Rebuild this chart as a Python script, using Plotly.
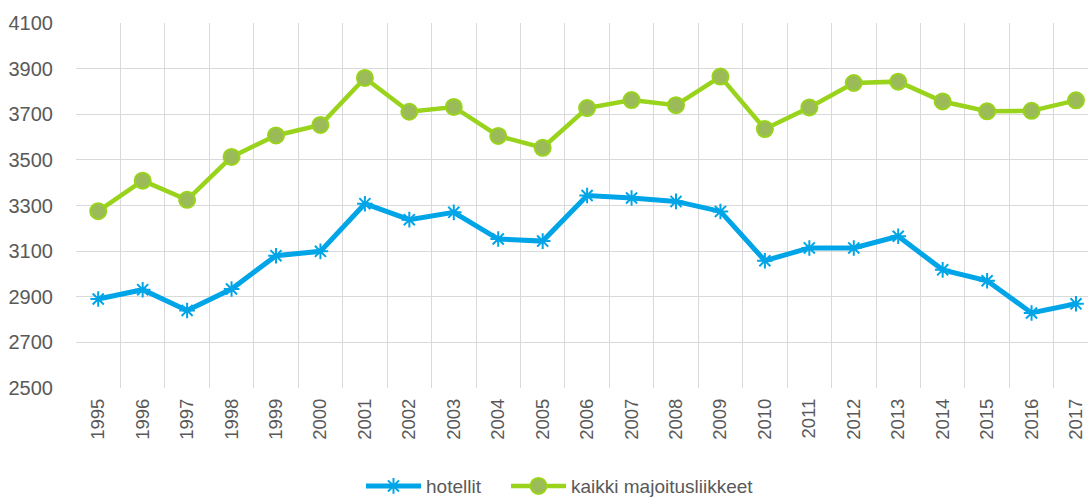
import plotly.graph_objects as go

years = [str(y) for y in range(1995, 2018)]
hotellit = [2890, 2931, 2840, 2934, 3080, 3099, 3308, 3238, 3270, 3153, 3144,
            3344, 3333, 3318, 3274, 3058, 3114, 3114, 3165, 3018, 2970, 2829, 2869]
kaikki = [3275, 3409, 3325, 3513, 3607, 3653, 3859, 3711, 3732, 3605, 3553,
          3727, 3762, 3740, 3865, 3635, 3730, 3837, 3843, 3756, 3713, 3715, 3761]
y_ticks = list(range(2500, 4101, 200))

blue = "#00A5E8"
green = "#99D31C"
green_fill = "#9BBB59"
txt = "#595959"
grid = "#D9D9D9"

fig = go.Figure()
fig.add_trace(go.Scatter(
    x=years, y=hotellit, name="hotellit", mode="lines+markers",
    line=dict(color=blue, width=5), legend="legend",
    marker=dict(symbol="asterisk-open", size=13, color=blue,
                line=dict(color=blue, width=2)),
))
fig.add_trace(go.Scatter(
    x=years, y=kaikki, name="kaikki majoitusliikkeet", mode="lines+markers",
    line=dict(color=green, width=4.5), legend="legend2",
    marker=dict(symbol="circle", size=16, color=green_fill,
                line=dict(color=green, width=2)),
))

leg_common = dict(orientation="h", xref="container", xanchor="left",
                  yref="container", y=0.022, yanchor="middle",
                  font=dict(size=19, color=txt), itemwidth=55)

fig.update_layout(
    width=1088, height=497,
    margin=dict(l=76, r=0, t=23, b=109, autoexpand=False),
    paper_bgcolor="white", plot_bgcolor="white",
    font=dict(family="Liberation Sans, Arial, sans-serif", color=txt, size=18),
    showlegend=True,
    legend=dict(x=361 / 1088, **leg_common),
    legend2=dict(x=506 / 1088, **leg_common),
    xaxis=dict(type="category", range=[-0.5, 22.27], tickson="boundaries",
               showgrid=True, gridcolor=grid, gridwidth=1.3,
               tickangle=-90, ticks="", ticklabelstandoff=6,
               tickfont=dict(size=18.5, color=txt),
               showline=False, zeroline=False, automargin=False),
    yaxis=dict(range=[2500, 4100], tickvals=y_ticks,
               ticktext=[str(v) for v in y_ticks],
               showgrid=True, gridcolor=grid, gridwidth=1.3,
               ticks="", ticklabelstandoff=22,
               tickfont=dict(size=20, color=txt),
               showline=False, zeroline=False, automargin=False),
)

fig.write_html("out.html", config={"displayModeBar": False},
               post_script="document.body.style.margin='0';document.body.style.overflow='hidden';")
